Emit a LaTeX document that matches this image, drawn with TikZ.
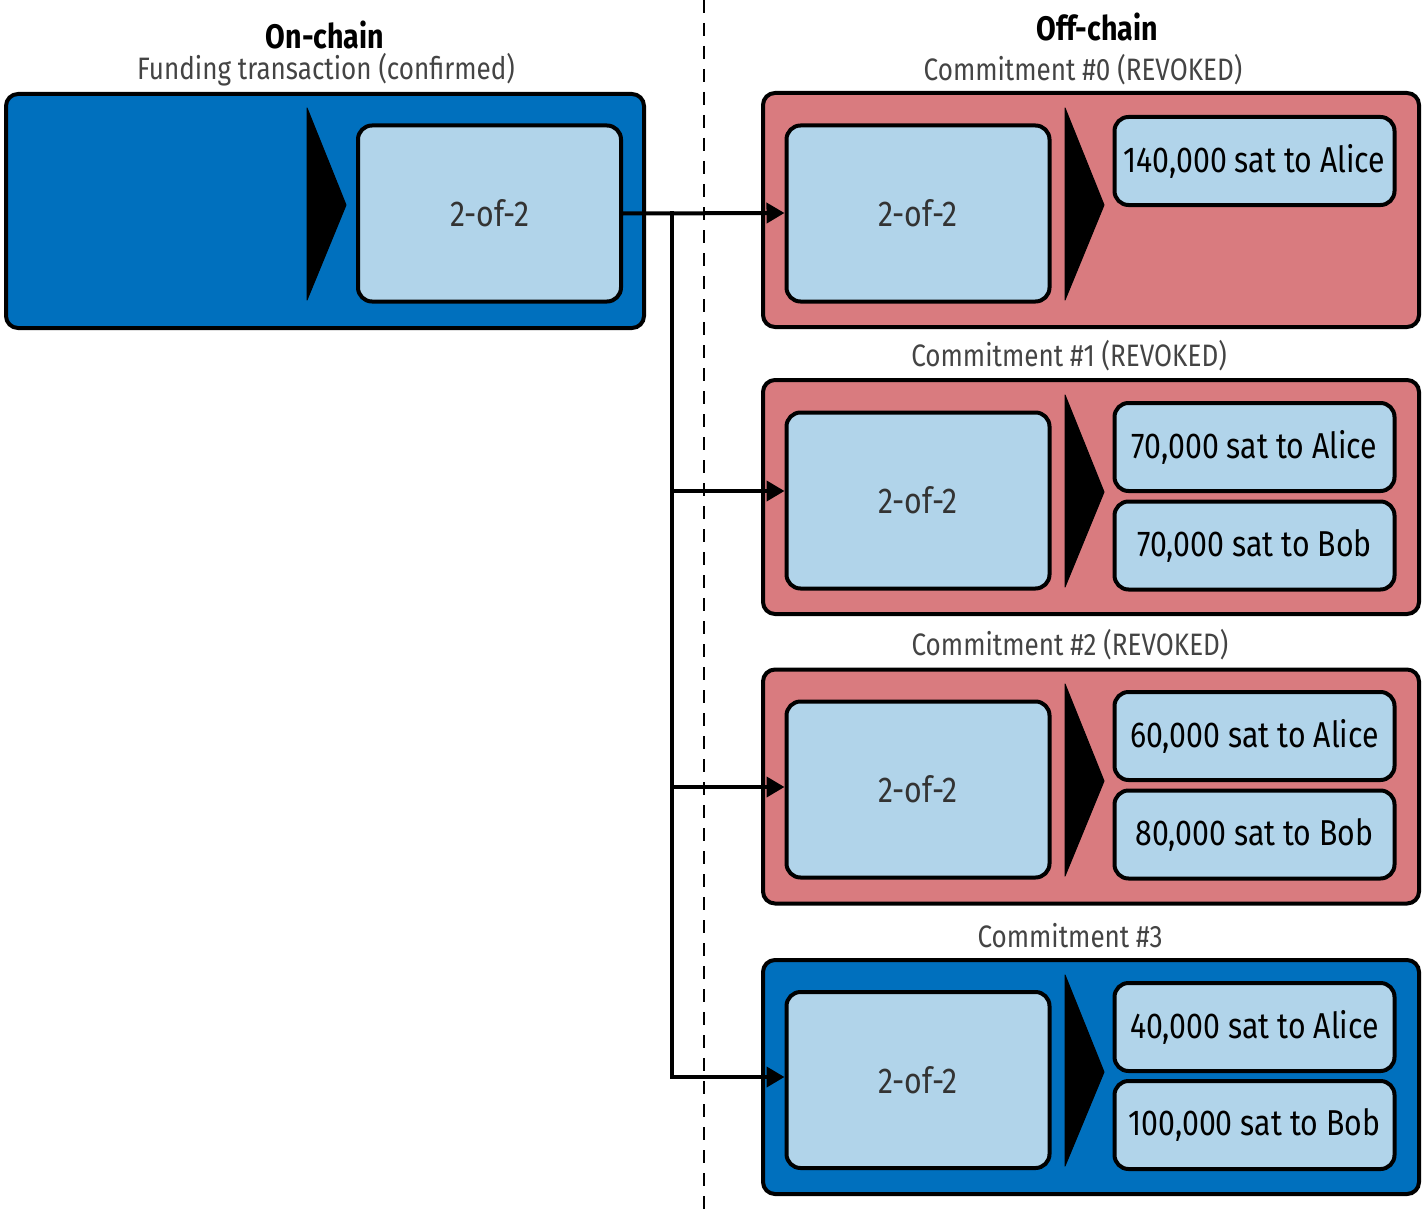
\documentclass[tikz,border=0pt]{standalone}
\usepackage{fontspec}
\setmainfont{Fira Sans}[FakeStretch=0.84]
\usetikzlibrary{arrows.meta}
\definecolor{cblue}{RGB}{0,112,190}
\definecolor{cred}{RGB}{217,123,127}
\definecolor{clight}{RGB}{177,212,234}
\definecolor{ctxt}{RGB}{51,51,51}
\definecolor{ctitle}{RGB}{68,68,68}
\begin{document}
\begin{tikzpicture}[x=1pt,y=-1pt,
  txbox/.style={draw=black, line width=4pt, rounded corners=12pt, minimum width=638pt, minimum height=234pt, inner sep=0pt},
  bluetx/.style={txbox, fill=cblue},
  redtx/.style={txbox, fill=cred, minimum width=656pt},
  msbox/.style={draw=black, line width=4pt, rounded corners=14pt, fill=clight, minimum width=263pt, minimum height=176pt, inner sep=0pt, text=ctxt, font=\fontsize{36}{40}\selectfont},
  outbox/.style={draw=black, line width=4pt, rounded corners=14pt, fill=clight, minimum width=280pt, minimum height=88pt, inner sep=0pt, text=black, font=\fontsize{36}{40}\selectfont},
  ttl/.style={text=ctitle, font=\fontsize{31}{34}\selectfont, inner sep=0pt},
  headtx/.style={text=black, font=\fontsize{34}{38}\selectfont\bfseries, inner sep=0pt},
  tri/.style={fill=black, draw=black, line width=1pt, line join=round},
  conn/.style={draw=black, line width=4pt, -{Triangle[length=18pt,width=20pt]}},
  link/.style={draw=black, line width=4pt}
]
\useasboundingbox (0,0) rectangle (1423,1217);
% divider
\draw[line width=2.5pt, dash pattern=on 13pt off 10pt] (704,0) -- (704,1217);
% headings
\node[headtx] (onchain) at (325,35) {On-chain};
\node[headtx] (offchain) at (1097,27) {Off-chain};
\node[ttl] (ftitle) at (326,70) {Funding transaction (confirmed)};
% funding
\node[bluetx] (fund) at (325,211) {};
\fill[tri] (307,108) -- (346,205) -- (307,300) -- cycle;
\node[msbox] (fundms) at (489.5,213.5) {2-of-2};
% commitment 0
\node[ttl] (t0) at (1083,70) {Commitment \#0 (REVOKED)};
\node[redtx] (c0) at (1091,210) {};
\node[msbox] (c0ms) at (918,213.5) {2-of-2};
\fill[tri] (1065,108) -- (1104,205) -- (1065,300) -- cycle;
\node[outbox] (c0a) at (1254.5,161) {140,000 sat to Alice};
% commitment 1
\node[ttl] (t1) at (1069,356) {Commitment \#1 (REVOKED)};
\node[redtx] (c1) at (1091,497) {};
\node[msbox] (c1ms) at (918,500.5) {2-of-2};
\fill[tri] (1065,395) -- (1104,492) -- (1065,587) -- cycle;
\node[outbox] (c1a) at (1254.5,447) {70,000 sat to Alice};
\node[outbox] (c1b) at (1254.5,545.5) {70,000 sat to Bob};
% commitment 2
\node[ttl] (t2) at (1070,645) {Commitment \#2 (REVOKED)};
\node[redtx] (c2) at (1091,786.5) {};
\node[msbox] (c2ms) at (918,789.5) {2-of-2};
\fill[tri] (1065,684) -- (1104,781) -- (1065,876) -- cycle;
\node[outbox] (c2a) at (1254.5,736) {60,000 sat to Alice};
\node[outbox] (c2b) at (1254.5,834.5) {80,000 sat to Bob};
% commitment 3
\node[ttl] (t3) at (1070,936) {Commitment \#3};
\node[bluetx, minimum width=656pt] (c3) at (1091,1077) {};
\node[msbox] (c3ms) at (918,1080) {2-of-2};
\fill[tri] (1065,975) -- (1104,1072) -- (1065,1166) -- cycle;
\node[outbox] (c3a) at (1254.5,1027) {40,000 sat to Alice};
\node[outbox] (c3b) at (1254.5,1125) {100,000 sat to Bob};
% connectors
\coordinate (j) at (672,213);
\draw[conn] (fundms.east) -- ([yshift=0.5pt]c0ms.west);
\draw[link] ([yshift=2pt]j) -- (672,1077);
\draw[conn] (j) |- ([yshift=9.5pt]c1ms.west);
\draw[conn] (j) |- ([yshift=2.5pt]c2ms.west);
\draw[conn] (j) |- ([yshift=3pt]c3ms.west);
\end{tikzpicture}
\end{document}
